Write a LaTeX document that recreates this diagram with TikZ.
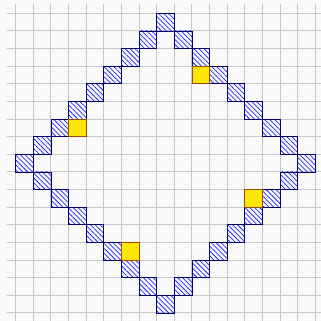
\documentclass[tikz,border=0pt]{standalone}
\usetikzlibrary{patterns.meta}
\tikzset{
  hatchcell/.style={draw=blue!40!black, line width=0.6pt,
    pattern={Lines[angle=-45, distance=2.8pt, line width=0.6pt]}, pattern color=blue!85!white},
  markcell/.style={draw=orange!60!black, line width=0.6pt, fill=yellow!90!orange},
}
\begin{document}
\begin{tikzpicture}[x=0.5cm, y=-0.5cm]
        \fill[black!2] (-0.89,-0.755) rectangle (17.32,17.45);
        \clip (-0.89,-0.755) rectangle (17.32,17.45);
        % grid, half a cell beyond the first line at the top and left
        \foreach \i in {0,...,17} {
            \draw[line width=0.8pt, color=black!22] (\i,-0.5) -- (\i,17.6);
            \draw[line width=0.8pt, color=black!22] (-0.5,\i) -- (17.6,\i);
        }
        % the diamond of cells, |i-8|+|j-8| = 8
        \foreach \k in {0,...,7} {
            \draw[hatchcell] (8-\k,\k) rectangle ++(1,1);
            \draw[hatchcell] (\k,8+\k) rectangle ++(1,1);
            \draw[hatchcell] (8+\k,16-\k) rectangle ++(1,1);
            \draw[hatchcell] (16-\k,8-\k) rectangle ++(1,1);
        }
        % marked cells just inside
        \foreach \i/\j in {3/6, 10/3, 13/10, 6/13}
            \draw[markcell] (\i,\j) rectangle ++(1,1);
    \end{tikzpicture}
\end{document}
